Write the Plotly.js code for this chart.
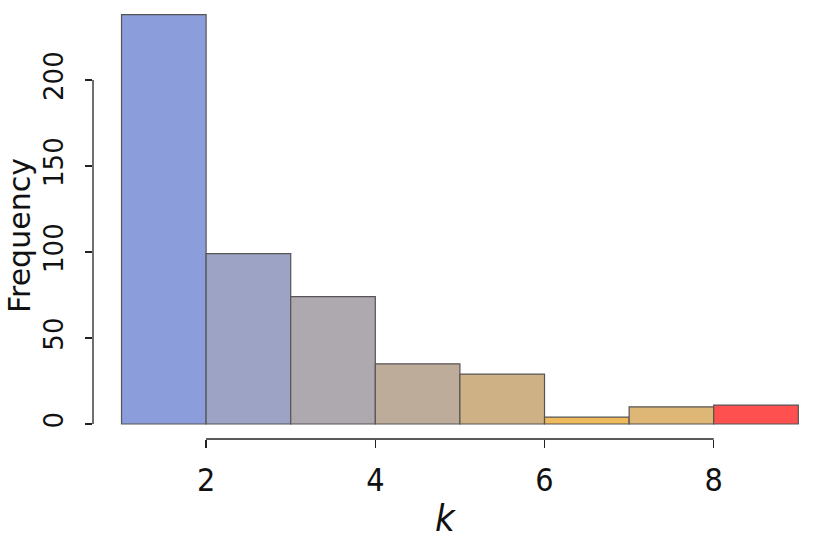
<!DOCTYPE html>
<html><head><meta charset="utf-8">
<script src="https://cdn.plot.ly/plotly-3.0.1.min.js"></script>
<style>body{margin:0;background:#fff}#chart{width:830px;height:542px}</style>
</head><body><div id="chart"></div>
<script>
const binEdges = [1,2,3,4,5,6,7,8,9];
const frequencies = [238, 99, 74, 35, 29, 4, 10, 11];
const barColors = ['#8B9EDB','#9DA3C5','#AEA8AF','#BEAC9B','#CEB185','#EFBA5C','#DEB777','#FF5050'];
const xTicks = [2,4,6,8];
const yTicks = [0,50,100,150,200];
const xTitle = 'k';
const yTitle = 'Frequency';

const centers = frequencies.map((_, i) => (binEdges[i] + binEdges[i+1]) / 2);
const widths = frequencies.map((_, i) => binEdges[i+1] - binEdges[i]);

const condFam = '"DejaVu Sans Condensed", "DejaVu Sans", sans-serif';
const sansFam = '"DejaVu Sans", sans-serif';

const trace = {
  type: 'bar', x: centers, y: frequencies, width: widths,
  marker: {color: barColors, line: {color: '#555555', width: 1.2}},
  hoverinfo: 'x+y'
};

const layout = {
  width: 830, height: 542,
  margin: {l: 93, r: 20, t: 10, b: 103},
  paper_bgcolor: '#fff', plot_bgcolor: '#fff',
  showlegend: false,
  xaxis: {
    range: [0.663, 9.138], showgrid: false, zeroline: false, showline: false,
    tickmode: 'array', tickvals: xTicks, ticktext: xTicks.map(String),
    ticks: 'outside', ticklen: 8, tickwidth: 1.3, tickcolor: '#222',
    ticklabelstandoff: 5,
    tickfont: {family: condFam, size: 32, color: '#111'}
  },
  yaxis: {
    range: [-8.72, 240.7], showgrid: false, zeroline: false, showline: false,
    tickmode: 'array', tickvals: yTicks, ticktext: yTicks.map(String),
    ticks: 'outside', ticklen: 7, tickwidth: 1.3, tickcolor: '#222', tickangle: -90,
    ticklabelstandoff: 12,
    tickfont: {family: sansFam, size: 26, color: '#111'}
  },
  annotations: [
    {text: '<i>' + xTitle + '</i>', xref: 'paper', yref: 'paper', x: 0.491, y: -0.183,
     xanchor: 'center', yanchor: 'middle', showarrow: false,
     font: {family: condFam, size: 38, color: '#111'}},
    {text: yTitle, xref: 'paper', yref: 'paper', x: -0.1032, y: 0.473, textangle: -90,
     xanchor: 'center', yanchor: 'middle', showarrow: false,
     font: {family: sansFam, size: 30, color: '#111'}}
  ],
  shapes: [
    {type: 'line', xref: 'x', yref: 'paper', x0: xTicks[0], x1: xTicks[xTicks.length-1], y0: 0, y1: 0,
     line: {color: '#222', width: 1.3}},
    {type: 'line', xref: 'paper', yref: 'y', x0: 0, x1: 0, y0: yTicks[0], y1: yTicks[yTicks.length-1],
     line: {color: '#222', width: 1.3}}
  ]
};

Plotly.newPlot('chart', [trace], layout, {displayModeBar: false, staticPlot: true});
</script></body></html>
